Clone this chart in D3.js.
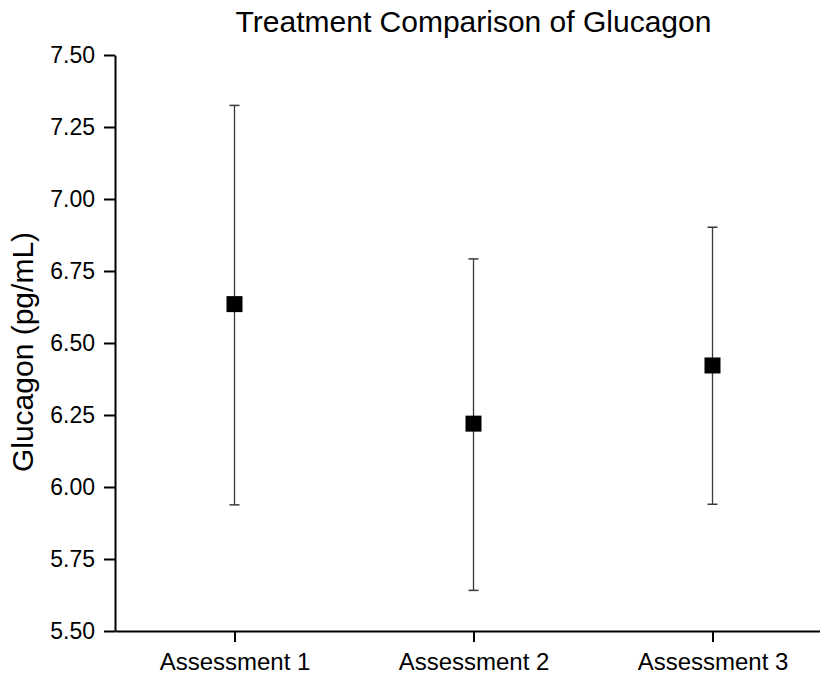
<!DOCTYPE html>
<html>
<head>
<meta charset="utf-8">
<script src="https://cdn.jsdelivr.net/npm/d3@7"></script>
<style>
  body { margin: 0; background: #fff; }
  svg { display: block; font-family: "Liberation Sans", Arial, sans-serif; }
</style>
</head>
<body>
<div id="chart"></div>
<script>
let categories = ['Assessment 1', 'Assessment 2', 'Assessment 3']
let means = [6.635, 6.22, 6.422]
let upper = [7.325, 6.792, 6.902]
let lower = [5.938, 5.641, 5.94]
let yTicks = [5.5, 5.75, 6, 6.25, 6.5, 6.75, 7, 7.25, 7.5]

let width = 820
let height = 675

let svg = d3.select('#chart')
  .append('svg')
    .attr('width', width)
    .attr('height', height)

let x = d3.scalePoint()
  .domain(categories)
  .range([115, 832])
  .padding(0.5)

let y = d3.scaleLinear()
  .domain([5.5, 7.5])
  .range([631, 55])

// axes
let xAxis = svg.append('g')
  .attr('transform', 'translate(0,' + y(5.5) + ')')
  .call(d3.axisBottom(x).tickSize(11).tickPadding(11).tickSizeOuter(0))

let yAxis = svg.append('g')
  .attr('transform', 'translate(' + x.range()[0] + ',0)')
  .call(d3.axisLeft(y).tickValues(yTicks).tickFormat(d3.format('.2f'))
    .tickSize(11).tickPadding(9).tickSizeOuter(0))

svg.selectAll('.domain, .tick line')
  .attr('stroke', '#000')
  .attr('stroke-width', 2)

xAxis.selectAll('text').attr('font-size', 24).attr('fill', '#000')
yAxis.selectAll('text').attr('font-size', 23).attr('fill', '#000')

// error bars
let rows = categories.map((c, i) => ({ c: c, m: means[i], hi: upper[i], lo: lower[i] }))

let bars = svg.append('g')
  .selectAll('g')
  .data(rows)
  .enter()
  .append('g')

bars.append('line')
  .attr('x1', d => x(d.c))
  .attr('x2', d => x(d.c))
  .attr('y1', d => y(d.hi))
  .attr('y2', d => y(d.lo))
  .attr('stroke', '#3a3a3a')
  .attr('stroke-width', 1.3)

bars.selectAll('line.cap')
  .data(d => [{ c: d.c, v: d.hi }, { c: d.c, v: d.lo }])
  .enter()
  .append('line')
    .attr('class', 'cap')
    .attr('x1', d => x(d.c) - 5)
    .attr('x2', d => x(d.c) + 5)
    .attr('y1', d => y(d.v))
    .attr('y2', d => y(d.v))
    .attr('stroke', '#3a3a3a')
    .attr('stroke-width', 1.5)

bars.append('rect')
  .attr('x', d => x(d.c) - 8)
  .attr('y', d => y(d.m) - 8)
  .attr('width', 16)
  .attr('height', 16)
  .attr('fill', '#000')

// title and label
svg.append('text')
  .attr('x', (x.range()[0] + x.range()[1]) / 2)
  .attr('y', 32)
  .attr('text-anchor', 'middle')
  .attr('font-size', 30)
  .attr('fill', '#000')
  .text('Treatment Comparison of Glucagon')

svg.append('text')
  .attr('transform', 'translate(33,352) rotate(-90)')
  .attr('text-anchor', 'middle')
  .attr('font-size', 30)
  .attr('fill', '#000')
  .text('Glucagon (pg/mL)')
</script>
</body>
</html>
